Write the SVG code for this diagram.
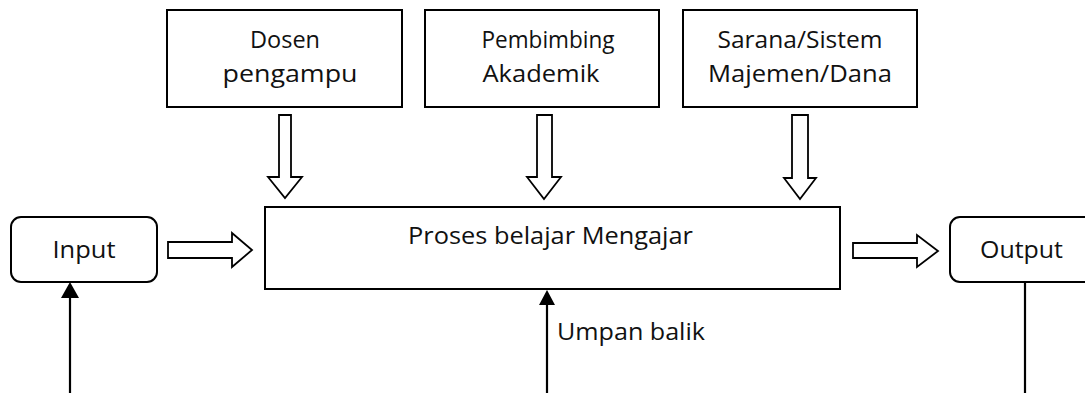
<svg xmlns="http://www.w3.org/2000/svg" width="1085" height="393" viewBox="0 0 1085 393">
  <style>
    .box { fill: #ffffff; stroke: #000000; stroke-width: 2; }
    .blk { fill: #ffffff; stroke: #000000; stroke-width: 1.8; stroke-linejoin: miter; }
    .ln { stroke: #000000; stroke-width: 2.2; fill: none; }
    .head { fill: #000000; stroke: none; }
    text { font-family: "Open Sans", "Noto Sans", "Liberation Sans", sans-serif; font-size: 24px; fill: #111111; text-anchor: middle; }
  </style>
  <rect width="1085" height="393" fill="#ffffff"/>

  <g id="node-dosen">
    <rect class="box" x="167" y="10" width="235" height="97"/>
    <text x="285" y="48" textLength="70" lengthAdjust="spacingAndGlyphs">Dosen</text>
    <text x="290" y="82" textLength="135" lengthAdjust="spacingAndGlyphs">pengampu</text>
  </g>
  <g id="node-pembimbing">
    <rect class="box" x="425" y="10" width="234" height="97"/>
    <text x="548" y="48" textLength="133" lengthAdjust="spacingAndGlyphs">Pembimbing</text>
    <text x="541" y="82" textLength="117" lengthAdjust="spacingAndGlyphs">Akademik</text>
  </g>
  <g id="node-sarana">
    <rect class="box" x="683" y="10" width="234" height="97"/>
    <text x="800" y="48" textLength="165" lengthAdjust="spacingAndGlyphs">Sarana/Sistem</text>
    <text x="800" y="82" textLength="184" lengthAdjust="spacingAndGlyphs">Majemen/Dana</text>
  </g>
  <g id="node-proses">
    <rect class="box" x="265" y="207" width="575" height="82"/>
    <text x="550.500" y="244" textLength="285" lengthAdjust="spacingAndGlyphs">Proses belajar Mengajar</text>
  </g>
  <g id="node-input">
    <rect class="box" x="11" y="217" width="146" height="65" rx="10" ry="10"/>
    <text x="84" y="258" textLength="63" lengthAdjust="spacingAndGlyphs">Input</text>
  </g>
  <g id="node-output">
    <rect class="box" x="950" y="217" width="146" height="65" rx="10" ry="10"/>
    <text x="1021.500" y="258" textLength="83" lengthAdjust="spacingAndGlyphs">Output</text>
  </g>

  <g id="connectors">
    <polygon class="blk" points="279,115 291,115 291,177 302,177 285,198 268,177 279,177"/>
    <polygon class="blk" points="537,115 552,115 552,177 561,177 544,199 527,177 537,177"/>
    <polygon class="blk" points="792,115 808,115 808,178 816,178 800,199 784,178 792,178"/>
    <polygon class="blk" points="168,242 232,242 232,233 252,250 232,267 232,258 168,258"/>
    <polygon class="blk" points="853,243 917,243 917,235 938,251 917,267 917,258 853,258"/>
    <line class="ln" x1="70" y1="393" x2="70" y2="296"/>
    <polygon class="head" points="70,282 79,298 61,298"/>
    <line class="ln" x1="547" y1="393" x2="547" y2="303"/>
    <polygon class="head" points="547,290 555,305 539,305"/>
    <text x="631" y="340" textLength="148" lengthAdjust="spacingAndGlyphs">Umpan balik</text>
    <line class="ln" x1="1025" y1="282" x2="1025" y2="393"/>
  </g>
</svg>
